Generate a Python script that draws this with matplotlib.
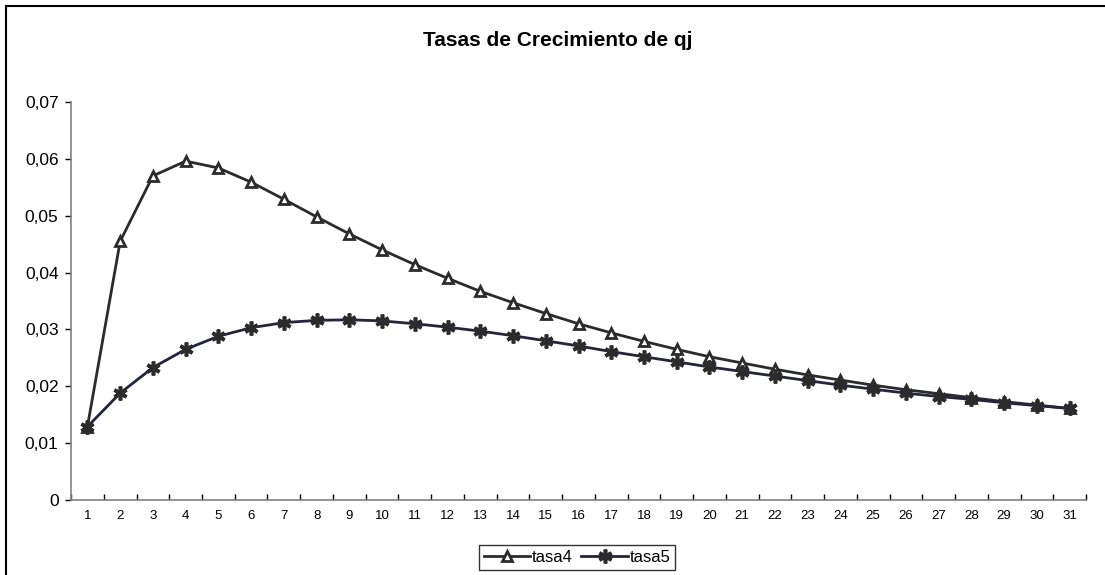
import numpy as np
import matplotlib.pyplot as plt
from matplotlib.patches import Rectangle
from matplotlib.ticker import FixedLocator, FuncFormatter

plt.rcParams['font.family'] = ['Liberation Sans', 'DejaVu Sans']

# Growth rates of qj for each period
periodos = np.arange(1, 32)
tasa4 = [0.0129, 0.0455, 0.0570, 0.0596, 0.0584, 0.0559, 0.0529, 0.0498,
         0.0468, 0.0440, 0.0414, 0.0390, 0.0367, 0.0347, 0.0328, 0.0310,
         0.0294, 0.0279, 0.0265, 0.0252, 0.0241, 0.0230, 0.0220, 0.0211,
         0.0202, 0.0194, 0.0187, 0.0180, 0.0173, 0.0167, 0.0161]
tasa5 = [0.0129, 0.0188, 0.0233, 0.0265, 0.0288, 0.0303, 0.0312, 0.0316,
         0.0317, 0.0315, 0.0310, 0.0304, 0.0297, 0.0289, 0.0280, 0.0271,
         0.0261, 0.0252, 0.0243, 0.0234, 0.0226, 0.0218, 0.0210, 0.0202,
         0.0195, 0.0188, 0.0182, 0.0177, 0.0171, 0.0166, 0.0161]

fig = plt.figure(figsize=(11.05, 5.75), dpi=100)
ax = fig.add_axes([0.0643, 0.1304, 0.9185, 0.6922])

# chart border
fig.patches.append(Rectangle((6 / 1105, -0.01), 1.2, 1 - 6 / 575 + 0.01,
                             transform=fig.transFigure, fill=False,
                             edgecolor='black', linewidth=1.5))

ax.plot(periodos, tasa4, color='#2b2b2b', linewidth=2, marker='^',
        markersize=7.5, markerfacecolor='white', markeredgecolor='#2b2b2b',
        markeredgewidth=2, label='tasa4')
ax.plot(periodos, tasa5, color='#24243a', linewidth=2, marker=(6, 2, 0),
        markersize=10, markeredgecolor='#2b2b2b', markeredgewidth=2.6,
        label='tasa5')

ax.set_xlim(0.5, 31.5)
ax.set_ylim(0, 0.07)

# ticks between categories, labels centred on them
ax.xaxis.set_major_locator(FixedLocator(np.arange(0.5, 32, 1)))
ax.xaxis.set_minor_locator(FixedLocator(periodos))
ax.xaxis.set_major_formatter(FuncFormatter(lambda v, p: ''))
ax.xaxis.set_minor_formatter(FuncFormatter(lambda v, p: f'{int(round(v))}'))
ax.tick_params(axis='x', which='major', direction='in', length=4, width=1)
ax.tick_params(axis='x', which='minor', length=0, labelsize=9.5, pad=7)

ax.set_yticks(np.arange(0, 0.0701, 0.01))
ax.yaxis.set_major_formatter(FuncFormatter(
    lambda v, p: '0' if abs(v) < 1e-9 else f'{v:.2f}'.replace('.', ',')))
ax.tick_params(axis='y', direction='out', length=4, width=1, labelsize=12.5,
               pad=5)

for s in ['top', 'right']:
    ax.spines[s].set_visible(False)
for s in ['left', 'bottom']:
    ax.spines[s].set_color('#808080')
    ax.spines[s].set_linewidth(1.2)

fig.text(0.505, 0.93, 'Tasas de Crecimiento de qj', ha='center', va='center',
         fontsize=15, fontweight='bold')

leg = fig.legend(loc='center', bbox_to_anchor=(577 / 1105, 1 - 557 / 575),
                 ncol=2, fontsize=12, frameon=True, fancybox=False,
                 edgecolor='black', handlelength=2.8, columnspacing=0.5,
                 handletextpad=0.1, borderpad=0.3)
leg.get_frame().set_linewidth(1)

fig.savefig('out.png', dpi=100)
